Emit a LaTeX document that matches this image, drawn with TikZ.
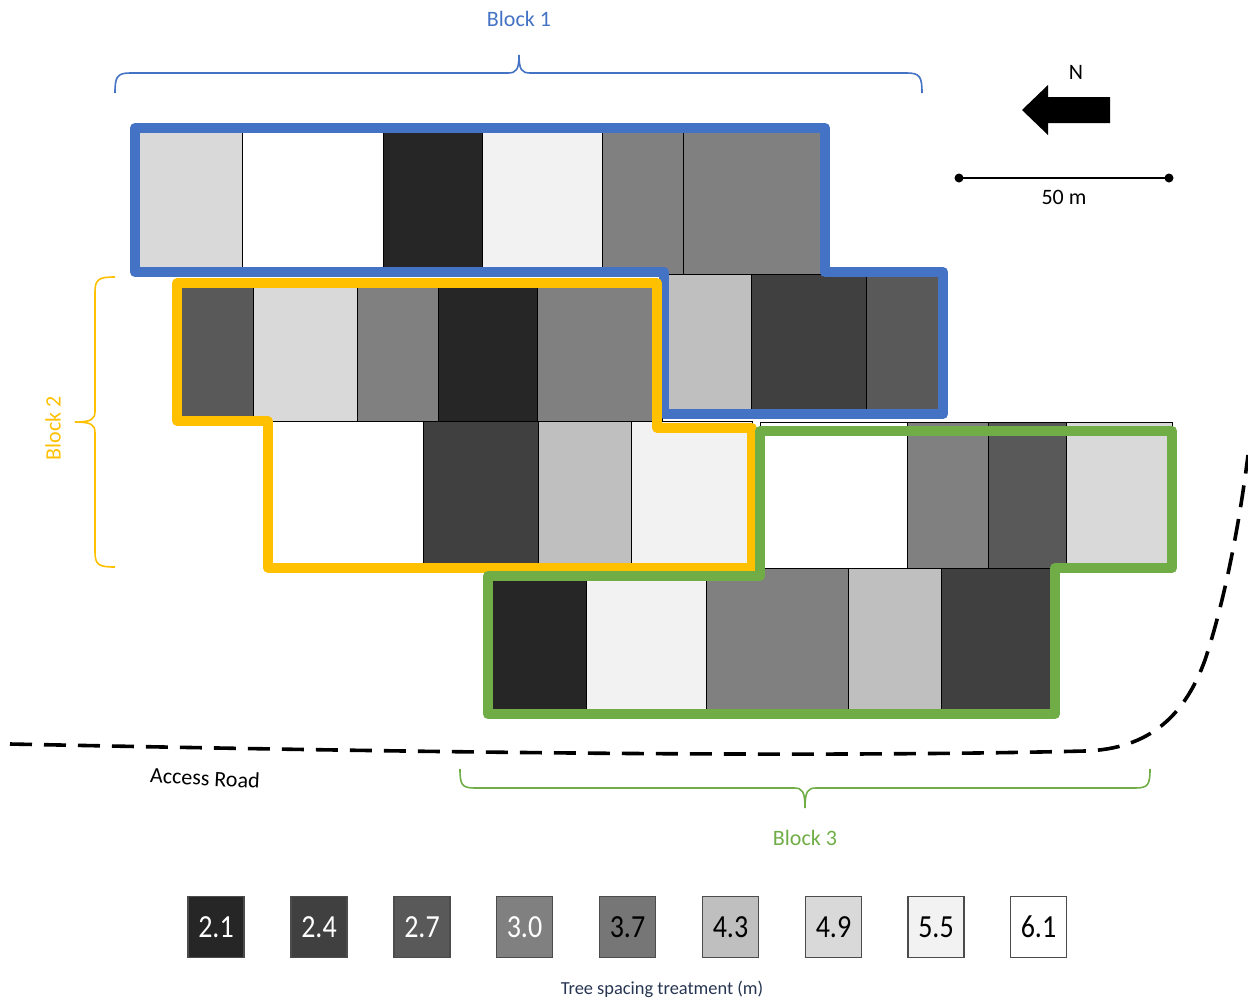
\documentclass[tikz,border=0pt]{standalone}
\usepackage{fontspec}
\setmainfont{Carlito}
\begin{document}
\begin{tikzpicture}[x=0.5pt,y=-0.5pt,
  cell/.style={draw=black, line width=0.5pt},
  blk/.style={line width=5pt, line join=round, line cap=round},
  brc/.style={line width=0.8pt},
  lbl/.style={font=\fontsize{11}{13}\selectfont, inner sep=0pt},
  legbox/.style={draw=black!70, line width=0.6pt, minimum width=28pt, minimum height=30.5pt, inner sep=0pt, font=\fontsize{14}{16}\selectfont}]
\definecolor{g21}{HTML}{262626}
\definecolor{g24}{HTML}{404040}
\definecolor{g27}{HTML}{595959}
\definecolor{g30}{HTML}{808080}
\definecolor{g37}{HTML}{767676}
\definecolor{g43}{HTML}{BFBFBF}
\definecolor{g49}{HTML}{D9D9D9}
\definecolor{g55}{HTML}{F2F2F2}
\definecolor{g61}{HTML}{FFFFFF}
\definecolor{bblue}{HTML}{4472C4}
\definecolor{byel}{HTML}{FFC000}
\definecolor{bgreen}{HTML}{70AD47}
\definecolor{capc}{HTML}{263551}
\useasboundingbox (0,0) rectangle (1248,1002);
% ---- Row 1
\filldraw[cell, fill=g49] (135,128) rectangle (242,272);
\filldraw[cell, fill=g61] (242,128) rectangle (383,272);
\filldraw[cell, fill=g21] (383,128) rectangle (482,272);
\filldraw[cell, fill=g55] (482,128) rectangle (602,272);
\filldraw[cell, fill=g30] (602,128) rectangle (683,274);
\filldraw[cell, fill=g30] (683,128) rectangle (825,274);
% ---- Row 2
\filldraw[cell, fill=g27] (177,283) rectangle (253,421);
\filldraw[cell, fill=g49] (253,283) rectangle (357,421);
\filldraw[cell, fill=g30] (357,283) rectangle (438,421);
\filldraw[cell, fill=g21] (438,283) rectangle (537,421);
\filldraw[cell, fill=g30] (537,283) rectangle (662,421);
\filldraw[cell, fill=g43] (663,274) rectangle (751,414);
\filldraw[cell, fill=g24] (751,274) rectangle (866,414);
\filldraw[cell, fill=g27] (866,274) rectangle (943,414);
% ---- Row 3
\filldraw[cell, fill=g61] (268,421) rectangle (423,568);
\filldraw[cell, fill=g24] (423,421) rectangle (538,568);
\filldraw[cell, fill=g43] (538,421) rectangle (631,568);
\filldraw[cell, fill=g55] (631,421) rectangle (752,568);
\filldraw[cell, fill=g61] (760,422) rectangle (907,568);
\filldraw[cell, fill=g30] (907,422) rectangle (988,568);
\filldraw[cell, fill=g27] (988,422) rectangle (1066,568);
\filldraw[cell, fill=g49] (1066,422) rectangle (1172,568);
% ---- Row 4
\filldraw[cell, fill=g21] (488,568) rectangle (586,714);
\filldraw[cell, fill=g55] (586,568) rectangle (706,714);
\filldraw[cell, fill=g30] (706,568) rectangle (848,714);
\filldraw[cell, fill=g43] (848,568) rectangle (941,714);
\filldraw[cell, fill=g24] (941,568) rectangle (1055,714);
% ---- Block outlines
\draw[blk, bblue] (135,128) -- (825,128) -- (825,272) -- (943,272) -- (943,414) -- (664,414) -- (664,272) -- (135,272) -- cycle;
\draw[blk, byel, line width=4.6pt] (177,283) -- (657,283) -- (657,428) -- (752,428) -- (752,568) -- (268,568) -- (268,421) -- (177,421) -- cycle;
\draw[blk, bgreen] (760,431) -- (1172,431) -- (1172,568) -- (1055,568) -- (1055,714) -- (488,714) -- (488,576) -- (760,576) -- cycle;
% ---- Braces
\draw[brc, bblue] (115,93) .. controls (115,77) and (117,73) .. (130,73) -- (508,73) .. controls (516,73) and (519,70) .. (519,55) .. controls (519,70) and (522,73) .. (530,73) -- (907,73) .. controls (920,73) and (922,77) .. (922,93);
\node[lbl, text=bblue] (b1) at (519,19) {Block 1};
\draw[brc, byel] (115,277) .. controls (99,277) and (95,279) .. (95,292) -- (95,411) .. controls (95,419) and (92,422) .. (75,422) .. controls (92,422) and (95,425) .. (95,433) -- (95,552) .. controls (95,565) and (99,567) .. (115,567);
\node[lbl, text=byel, rotate=90] (b2) at (53,428) {Block 2};
\draw[brc, bgreen] (460,769) .. controls (460,785) and (462,788) .. (475,788) -- (794,788) .. controls (802,788) and (805,791) .. (805,808) .. controls (805,791) and (808,788) .. (816,788) -- (1135,788) .. controls (1148,788) and (1150,785) .. (1150,769);
\node[lbl, text=bgreen] (b3) at (805,838) {Block 3};
% ---- North arrow
\fill[black] (1022,110) -- (1048,85) -- (1048,97) -- (1110,97) -- (1110,123) -- (1048,123) -- (1048,135) -- cycle;
\node[lbl] (n) at (1076,72) {N};
% ---- Scale bar
\coordinate (s1) at (959,178);
\coordinate (s2) at (1169,178);
\draw[line width=1.4pt] (s1) -- (s2);
\fill (s1) circle (4.5);
\fill (s2) circle (4.5);
\node[lbl] (sc) at (1064,197) {50 m};
% ---- Access road
\draw[line width=1.8pt, dash pattern=on 11pt off 6pt] (10,744) .. controls (400,752) and (800,758) .. (1085,751) .. controls (1150,749) and (1185,715) .. (1205,660) .. controls (1225,600) and (1240,520) .. (1248,455);
\node[lbl, rotate=-3] (road) at (205,778) {Access Road};
% ---- Legend
\node[legbox, fill=g21, text=white] (l1) at (216,927) {\scalebox{1}[1.15]{2.1}};
\node[legbox, fill=g24, text=white] (l2) at (319,927) {\scalebox{1}[1.15]{2.4}};
\node[legbox, fill=g27, text=white] (l3) at (422,927) {\scalebox{1}[1.15]{2.7}};
\node[legbox, fill=g30, text=white] (l4) at (524.5,927) {\scalebox{1}[1.15]{3.0}};
\node[legbox, fill=g37] (l5) at (627.5,927) {\scalebox{1}[1.15]{3.7}};
\node[legbox, fill=g43] (l6) at (730.5,927) {\scalebox{1}[1.15]{4.3}};
\node[legbox, fill=g49] (l7) at (833.5,927) {\scalebox{1}[1.15]{4.9}};
\node[legbox, fill=g55] (l8) at (936,927) {\scalebox{1}[1.15]{5.5}};
\node[legbox, fill=g61] (l9) at (1038.5,927) {\scalebox{1}[1.15]{6.1}};
\node[inner sep=0pt, text=capc, font=\fontsize{9.2}{11}\selectfont] (cap) at (662,989) {Tree spacing treatment (m)};
\end{tikzpicture}
\end{document}
